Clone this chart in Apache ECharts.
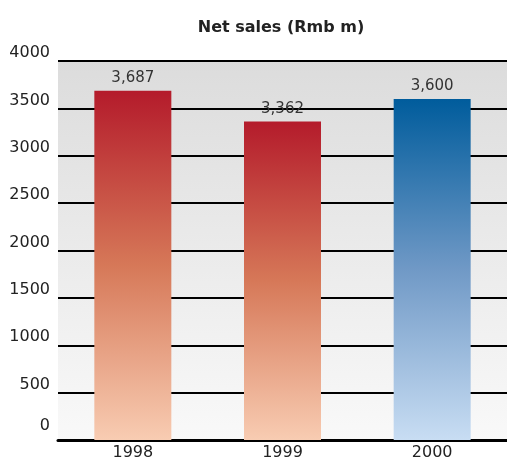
<!DOCTYPE html>
<html>
<head>
<meta charset="utf-8">
<style>html,body{margin:0;padding:0;background:#fff;}#c{width:507px;height:462px;}</style>
<script src="https://cdn.jsdelivr.net/npm/echarts@6/dist/echarts.min.js"></script>
</head>
<body>
<div id="c"></div>
<script>
const categories = ['1998', '1999', '2000'];
const netSales = [3687, 3362, 3600];
const yTicks = [0, 500, 1000, 1500, 2000, 2500, 3000, 3500, 4000];

const redGrad = new echarts.graphic.LinearGradient(0, 0, 0, 1, [
  {offset: 0, color: '#b41b2b'},
  {offset: 0.5, color: '#d67858'},
  {offset: 1, color: '#f8ccb2'}
]);
const blueGrad = new echarts.graphic.LinearGradient(0, 0, 0, 1, [
  {offset: 0, color: '#005c9c'},
  {offset: 0.5, color: '#7099c6'},
  {offset: 1, color: '#c8ddf3'}
]);
const barColors = [redGrad, redGrad, blueGrad];

const chart = echarts.init(document.getElementById('c'), null, {renderer: 'canvas'});
chart.setOption({
  backgroundColor: '#fff',
  animation: false,
  title: {
    text: 'Net sales (Rmb m)',
    left: 276, top: 15, textAlign: 'center',
    textStyle: {fontFamily: 'DejaVu Sans', fontWeight: 'bold', fontSize: 16, color: '#222'}
  },
  grid: {
    left: 58, right: -2, top: 61, bottom: 22,
    show: true, borderWidth: 0,
    backgroundColor: new echarts.graphic.LinearGradient(0, 0, 0, 1, [
      {offset: 0, color: '#dcdcdc'},
      {offset: 1, color: '#f9f9f9'}
    ])
  },
  xAxis: {
    type: 'category',
    data: categories,
    axisLine: {lineStyle: {color: '#000', width: 3}},
    axisTick: {show: false},
    axisLabel: {fontFamily: 'DejaVu Sans', fontSize: 16, color: '#222', margin: 5}
  },
  yAxis: {
    type: 'value',
    min: 0, max: 4000, interval: 500,
    axisLine: {show: false},
    axisTick: {show: false},
    splitLine: {lineStyle: {color: '#000', width: 2}},
    axisLabel: {
      fontFamily: 'DejaVu Sans', fontSize: 16, color: '#222', margin: 8,
      verticalAlign: 'bottom',
      formatter: function (v) { return v === 0 ? '{z|0}' : String(v); },
      rich: {z: {fontFamily: 'DejaVu Sans', fontSize: 16, color: '#222', padding: [0, 0, 6, 0]}}
    }
  },
  series: [{
    type: 'bar',
    barWidth: 77,
    data: netSales.map((v, i) => ({value: v, itemStyle: {color: barColors[i]}})),
    label: {
      show: true, position: 'top', distance: 5,
      fontFamily: 'DejaVu Sans', fontSize: 15, color: '#333',
      formatter: function (p) { return p.value.toLocaleString('en-US'); }
    }
  }]
});
</script>
</body>
</html>
